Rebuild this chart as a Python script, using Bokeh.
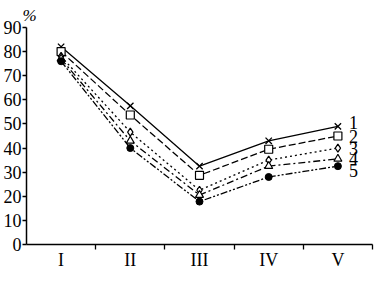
from bokeh.plotting import figure
from bokeh.models import Range1d, FixedTicker
from bokeh.core.properties import value
from bokeh.embed import file_html
from bokeh.resources import INLINE

categories = ["I", "II", "III", "IV", "V"]
series_names = ["1", "2", "3", "4", "5"]
s1 = [82, 57.5, 32.5, 43, 49]
s2 = [80, 53.7, 28.7, 39.5, 45]
s3 = [78, 46.6, 22.5, 35, 40]
s4 = [77, 43, 20.5, 32.5, 35.5]
s5 = [76, 40, 17.8, 28, 32.5]
y_ticks = [0, 10, 20, 30, 40, 50, 60, 70, 80, 90]

series = [s1, s2, s3, s4, s5]
dashes = ["solid", "7 3", "2 3", "7 3 2 3", "7 2 2 2 2 2"]
markers = ["x", "square", "diamond", "triangle", "circle"]
label_offsets = [4, 0, 0, 0, -4]

FONT = "Liberation Serif"
FS = "18px"

p = figure(width=374, height=272, output_backend="svg", toolbar_location=None,
           x_range=Range1d(0, 5), y_range=Range1d(0, 90),
           min_border_left=0, min_border_right=2, min_border_top=24, min_border_bottom=0)
p.outline_line_color = None
p.grid.visible = False
p.background_fill_color = "white"

p.title.text = "%"
p.title.align = "left"
p.title.offset = -4
p.title.standoff = 6
p.title.text_font = FONT
p.title.text_font_size = "17px"
p.title.text_font_style = "italic"
p.title.text_color = "black"

xs = [i + 0.5 for i in range(len(categories))]

for s, d, m, name, off in zip(series, dashes, markers, series_names, label_offsets):
    p.line(xs, s, line_color="black", line_width=1.3, line_dash=d)
    if m == "circle":
        p.scatter(xs, s, marker=m, size=7, fill_color="black", line_color="black")
    elif m == "x":
        p.scatter(xs, s, marker=m, size=9, line_color="black", line_width=1.3)
    else:
        p.scatter(xs, s, marker=m, size=8, fill_color="white",
                  line_color="black", line_width=1.2)
    p.text(x=[xs[-1]], y=[s[-1]], text=[name], x_offset=11, y_offset=-off,
           text_font=value(FONT), text_font_size=FS, text_baseline="middle",
           text_align="left", text_color="black")

p.xaxis.ticker = FixedTicker(ticks=xs, minor_ticks=[1, 2, 3, 4, 5])
p.xaxis.major_label_overrides = {x: c for x, c in zip(xs, categories)}
p.xaxis.major_tick_line_color = None
p.xaxis.major_tick_out = 0
p.xaxis.minor_tick_out = 5
p.xaxis.minor_tick_in = 0
p.xaxis.minor_tick_line_color = "black"
p.xaxis.minor_tick_line_width = 1.3
p.xaxis.major_label_standoff = 0

p.yaxis.ticker = FixedTicker(ticks=y_ticks, minor_ticks=[])
p.yaxis.major_tick_out = 4
p.yaxis.major_tick_in = 0
p.yaxis.major_label_standoff = 1

for ax in (p.xaxis, p.yaxis):
    ax.axis_line_color = "black"
    ax.axis_line_width = 1.5
    ax.major_tick_line_width = 1.3
    ax.major_label_text_font = FONT
    ax.major_label_text_font_size = FS
    ax.major_label_text_color = "black"

open("out.html", "w").write(file_html(p, INLINE))
